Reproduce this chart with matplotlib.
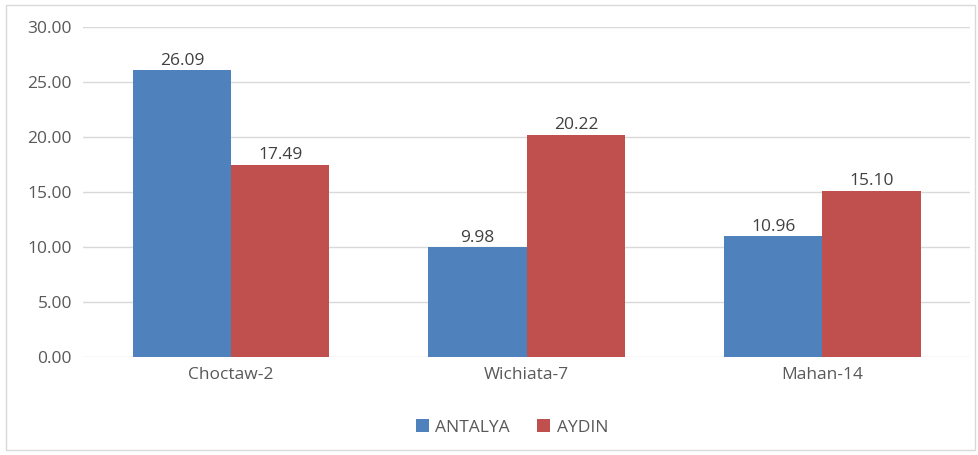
import numpy as np
import matplotlib.pyplot as plt
from matplotlib.patches import Rectangle

plt.rcParams['font.family'] = ['Open Sans', 'DejaVu Sans']

categories = ['Choctaw-2', 'Wichiata-7', 'Mahan-14']
antalya = [26.09, 9.98, 10.96]
aydin = [17.49, 20.22, 15.10]
series_names = ['ANTALYA', 'AYDIN']
colors = ['#4F81BD', '#C0504D']
text_color = '#595959'
fs = 12.5

fig = plt.figure(figsize=(9.79, 4.55), dpi=100)
ax = fig.add_axes([0.085, 0.2154, 0.906, 0.7253])

# chart border
fig.patches.append(Rectangle((6 / 979, 5 / 455), 969 / 979, 445 / 455,
                             transform=fig.transFigure, fill=False,
                             edgecolor='#D9D9D9', linewidth=1))

x = np.arange(len(categories))
w = 0.333
b1 = ax.bar(x - w / 2, antalya, w, color=colors[0], label=series_names[0], zorder=3)
b2 = ax.bar(x + w / 2, aydin, w, color=colors[1], label=series_names[1], zorder=3)

for bars in (b1, b2):
    for rect in bars:
        h = rect.get_height()
        ax.annotate(f'{h:.2f}', (rect.get_x() + rect.get_width() / 2, h),
                    xytext=(0, 1), textcoords='offset points',
                    ha='center', va='bottom', fontsize=fs, color='#404040')

ax.set_xlim(-0.5, 2.5)
ax.set_ylim(0, 30)
ax.set_yticks(np.arange(0, 31, 5))
ax.set_yticklabels([f'{v:.2f}' for v in np.arange(0, 31, 5)])
ax.set_xticks(x)
ax.set_xticklabels(categories)
ax.tick_params(axis='both', length=0, labelsize=fs, labelcolor=text_color)
ax.tick_params(axis='y', pad=8)
ax.tick_params(axis='x', pad=7)
ax.grid(axis='y', color='#D9D9D9', linewidth=1, zorder=0)
for s in ax.spines.values():
    s.set_visible(False)

fig.legend(loc='center', bbox_to_anchor=(0.523, 0.06), ncol=2, frameon=False,
           fontsize=fs, handlelength=0.75, handleheight=0.75, handletextpad=0.35,
           columnspacing=1.6, labelcolor=text_color)

plt.savefig('out.png', dpi=100)
